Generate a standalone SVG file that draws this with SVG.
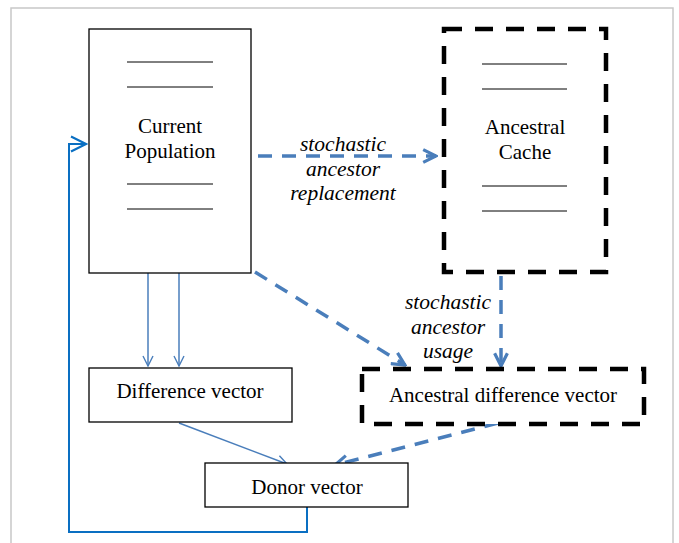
<svg xmlns="http://www.w3.org/2000/svg" width="679" height="543" viewBox="0 0 679 543">
<defs>
<style>
.box{fill:#fff;stroke:#000;stroke-width:1.3}
.dbox{fill:#fff;stroke:#000;stroke-width:4.5;stroke-dasharray:18 13}
.rule{stroke:#000;stroke-width:1}
.thin{fill:none;stroke:#4a7ebb;stroke-width:1.5}
.dash{fill:none;stroke:#4a7ebb;stroke-width:3.5;stroke-dasharray:14 10}
.fb{fill:none;stroke:#0a6fc2;stroke-width:2}
</style>
<marker id="ah" viewBox="0 0 12 12" refX="11" refY="6" markerWidth="12" markerHeight="12" markerUnits="userSpaceOnUse" orient="auto"><path d="M1,1 L11,6 L1,11" fill="none" stroke="#4a7ebb" stroke-width="1.4"/></marker>
<marker id="ahd" viewBox="0 0 10 10" refX="9" refY="5" markerWidth="16" markerHeight="16" markerUnits="userSpaceOnUse" orient="auto"><path d="M1,1 L9,5 L1,9" fill="none" stroke="#4a7ebb" stroke-width="2"/></marker>
<marker id="ahf" viewBox="0 0 12 12" refX="11" refY="6" markerWidth="18" markerHeight="18" markerUnits="userSpaceOnUse" orient="auto"><path d="M1,1 L11,6 L1,11" fill="none" stroke="#0a6fc2" stroke-width="1.4"/></marker>
</defs>
<rect x="0" y="0" width="679" height="543" fill="#fff"/>
<rect x="11" y="8" width="662" height="545" fill="none" stroke="#c8c8c8" stroke-width="1.5"/>

<g id="connectors">
<path class="dash" d="M258,156 L436,156" marker-end="url(#ahd)"/>
<path class="dash" d="M255,272 L405,365" marker-end="url(#ahd)"/>
<path class="dash" d="M501,276 L501,366" marker-end="url(#ahd)"/>
<path class="dash" d="M498,423 L335,465" marker-end="url(#ahd)"/>
<path class="thin" d="M148,273 L148,366" marker-end="url(#ah)"/>
<path class="thin" d="M179,273 L179,366" marker-end="url(#ah)"/>
<path class="thin" d="M179,423 L287,464" marker-end="url(#ah)"/>
<path class="fb" d="M307,503 L307,532 L69,532 L69,144 L86,144" marker-end="url(#ahf)"/>
<text x="343" y="151" font-family="Liberation Serif" font-style="italic" font-size="21.5" text-anchor="middle">stochastic</text>
<text x="343" y="176" font-family="Liberation Serif" font-style="italic" font-size="21.5" text-anchor="middle">ancestor</text>
<text x="343" y="200" font-family="Liberation Serif" font-style="italic" font-size="21.5" text-anchor="middle">replacement</text>
<text x="448" y="309" font-family="Liberation Serif" font-style="italic" font-size="21.5" text-anchor="middle">stochastic</text>
<text x="448" y="334" font-family="Liberation Serif" font-style="italic" font-size="21.5" text-anchor="middle">ancestor</text>
<text x="448" y="358" font-family="Liberation Serif" font-style="italic" font-size="21.5" text-anchor="middle">usage</text>
</g>

<g id="current-population">
<rect class="box" x="89" y="29" width="162" height="244"/>
<line class="rule" x1="127" y1="62" x2="213" y2="62"/>
<line class="rule" x1="127" y1="87" x2="213" y2="87"/>
<text x="170" y="133" font-family="Liberation Serif" font-size="21" text-anchor="middle">Current</text>
<text x="170" y="158" font-family="Liberation Serif" font-size="21" text-anchor="middle">Population</text>
<line class="rule" x1="127" y1="184" x2="213" y2="184"/>
<line class="rule" x1="127" y1="209" x2="213" y2="209"/>
</g>

<g id="ancestral-cache">
<rect class="dbox" x="444" y="29" width="162" height="243"/>
<line class="rule" x1="482" y1="64" x2="567" y2="64"/>
<line class="rule" x1="482" y1="89" x2="567" y2="89"/>
<text x="525" y="134" font-family="Liberation Serif" font-size="21" text-anchor="middle">Ancestral</text>
<text x="525" y="159" font-family="Liberation Serif" font-size="21" text-anchor="middle">Cache</text>
<line class="rule" x1="482" y1="186" x2="567" y2="186"/>
<line class="rule" x1="482" y1="211" x2="567" y2="211"/>
</g>

<g id="difference-vector">
<rect class="box" x="89" y="368" width="203" height="54"/>
<text x="190" y="398" font-family="Liberation Serif" font-size="21" text-anchor="middle">Difference vector</text>
</g>

<g id="ancestral-difference-vector">
<rect class="dbox" x="362" y="369" width="282" height="55"/>
<text x="503" y="402" font-family="Liberation Serif" font-size="21" text-anchor="middle">Ancestral difference vector</text>
</g>

<g id="donor-vector">
<rect class="box" x="205" y="463" width="203" height="44"/>
<text x="307" y="494" font-family="Liberation Serif" font-size="21" text-anchor="middle">Donor vector</text>
</g>
</svg>
